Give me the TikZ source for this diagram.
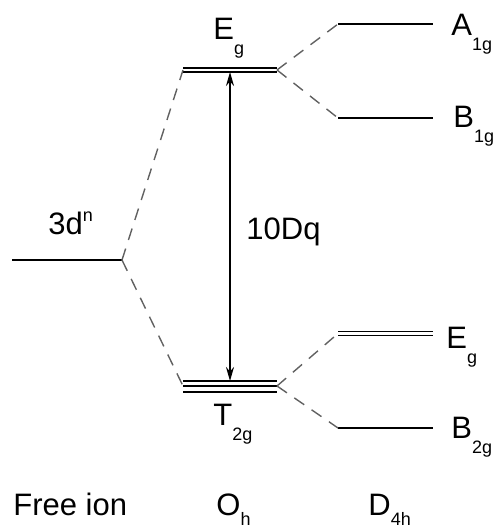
\documentclass[tikz,border=0pt]{standalone}
\usepackage{fontspec}
\setmainfont{Liberation Sans}
\usetikzlibrary{arrows.meta, positioning}
\tikzstyle{level} = [line width=1pt, black]
\tikzstyle{dlevel} = [line width=0.75pt, black]
\tikzstyle{link} = [dash pattern=on 6pt off 4.5pt, line width=0.7pt, black!62]
\tikzstyle{gap} = [line width=0.9pt, {Stealth[length=7pt,width=4pt]}-{Stealth[length=7pt,width=4pt]}]
\tikzstyle{lbl} = [anchor=base west, inner sep=0pt, font=\fontsize{15.5}{18}\selectfont]
\newcommand{\lsub}[2][7.5pt]{\raisebox{-#1}{\fontsize{9}{10}\selectfont #2}}
\newcommand{\lsup}[1]{\raisebox{6.5pt}{\fontsize{9}{10}\selectfont #1}}

\begin{document}
\begin{tikzpicture}[x=0.5pt, y=-0.5pt]
    \useasboundingbox (0,0) rectangle (497,528);
    % free ion
    \coordinate (fi-l) at (12,260);
    \coordinate (fi-r) at (122,260);
    \draw[level] (fi-l) -- (fi-r);
    % O_h levels
    \coordinate (oeg-l) at (183,70);
    \coordinate (oeg-r) at (277,70);
    \draw[dlevel] ([yshift=1pt]oeg-l) -- ([yshift=1pt]oeg-r);
    \draw[dlevel] ([yshift=-1pt]oeg-l) -- ([yshift=-1pt]oeg-r);
    \coordinate (t2g-l) at (183,386);
    \coordinate (t2g-r) at (277,386);
    \draw[dlevel] ([yshift=2.5pt]t2g-l) -- ([yshift=2.5pt]t2g-r);
    \draw[dlevel] (t2g-l) -- (t2g-r);
    \draw[dlevel] ([yshift=-3pt]t2g-l) -- ([yshift=-3pt]t2g-r);
    % D_4h levels
    \coordinate (a1g-l) at (338,24);
    \coordinate (a1g-r) at (433,24);
    \draw[level] (a1g-l) -- (a1g-r);
    \coordinate (b1g-l) at (338,118);
    \coordinate (b1g-r) at (433,118);
    \draw[level] (b1g-l) -- (b1g-r);
    \coordinate (deg-l) at (338,333.5);
    \coordinate (deg-r) at (433,333.5);
    \draw[dlevel] ([yshift=1pt]deg-l) -- ([yshift=1pt]deg-r);
    \draw[dlevel] ([yshift=-1pt]deg-l) -- ([yshift=-1pt]deg-r);
    \coordinate (b2g-l) at (338,428);
    \coordinate (b2g-r) at (433,428);
    \draw[level] (b2g-l) -- (b2g-r);
    % splitting
    \draw[link] (fi-r) -- (oeg-l);
    \draw[link] (fi-r) -- (t2g-l);
    \draw[link] (oeg-r) -- (a1g-l);
    \draw[link] (oeg-r) -- (b1g-l);
    \draw[link] (t2g-r) -- (deg-l);
    \draw[link] (t2g-r) -- (b2g-l);
    % 10Dq
    \coordinate (gap-t) at (230,72);
    \coordinate (gap-b) at (230,381);
    \draw[gap] (gap-t) -- (gap-b);
    % labels
    \node[lbl] (oeg-lbl) at (213,40) {E\lsub{g}};
    \node[lbl] (t2g-lbl) at (213,425) {T\lsub{2g}};
    \node[lbl] (a1g-lbl) at (451,36) {A\lsub{1g}};
    \node[lbl] (b1g-lbl) at (453,128) {B\lsub{1g}};
    \node[lbl] (deg-lbl) at (446,348) {E\lsub{g}};
    \node[lbl] (b2g-lbl) at (451,438) {B\lsub{2g}};
    \node[lbl] (fi-lbl) at (48,235) {3d\lsup{n}};
    \node[lbl] (dq-lbl) at (246,240) {10Dq};
    \node[lbl] (free) at (13,515) {Free ion};
    \node[lbl] (oh) at (216,515) {O\lsub[5pt]{h}};
    \node[lbl] (d4h) at (368,515) {D\lsub[5pt]{4h}};
\end{tikzpicture}
\end{document}
